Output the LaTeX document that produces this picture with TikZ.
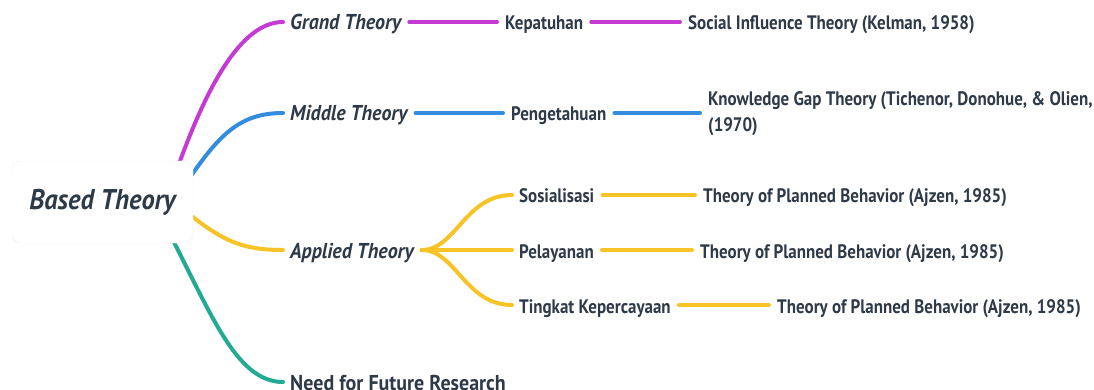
\documentclass[tikz,border=0pt]{standalone}
\usepackage{fontspec}
\setmainfont{PT Sans}[FakeStretch=0.87]
\newfontfamily\widefont{PT Sans}[FakeStretch=0.93]
\usetikzlibrary{positioning}

\definecolor{ink}{HTML}{2E3A48}
\definecolor{grandc}{HTML}{C63AD4}
\definecolor{middlec}{HTML}{348CDE}
\definecolor{appliedc}{HTML}{F7C326}
\definecolor{futurec}{HTML}{22AA93}

\tikzset{
  topic/.style={anchor=west,inner sep=0pt,text=ink,font=\fontsize{19.5}{23}\selectfont\bfseries,text height=16pt,text depth=0pt},
  branch/.style={topic,font=\widefont\fontsize{21.5}{25}\selectfont\bfseries\itshape},
  link/.style={line width=4pt,line cap=round,shorten <=8pt,shorten >=8pt}
}

\begin{document}
\begin{tikzpicture}[x=1pt,y=-1pt]
                \useasboundingbox (0,0) rectangle (1094,390);

                % main branches
                \node[branch] (grand) at (290,22) {Grand Theory};
                \node[branch] (middle) at (290,113) {Middle Theory};
                \node[branch] (applied) at (290,250) {Applied Theory};
                \node[topic,font=\widefont\fontsize{21.5}{25}\selectfont\bfseries] (future) at (290,382) {Need for Future Research};

                % sub topics
                \node[topic] (kepatuhan) at (505,22) {Kepatuhan};
                \node[topic] (social) at (688,22) {Social Influence Theory (Kelman, 1958)};
                \node[topic] (pengetahuan) at (511,113) {Pengetahuan};
                \node[topic,text height=,text depth=,align=left,font=\fontsize{19.5}{26}\selectfont\bfseries] (gap) at (708,114) {Knowledge Gap Theory (Tichenor, Donohue, \& Olien,\\(1970)};
                \node[topic] (sosialisasi) at (519,195) {Sosialisasi};
                \node[topic] (pelayanan) at (519,250) {Pelayanan};
                \node[topic] (tingkat) at (519,305) {Tingkat Kepercayaan};
                \node[topic] (tpb1) at (703,195) {Theory of Planned Behavior (Ajzen, 1985)};
                \node[topic] (tpb2) at (700,250) {Theory of Planned Behavior (Ajzen, 1985)};
                \node[topic] (tpb3) at (777,305) {Theory of Planned Behavior (Ajzen, 1985)};

                % curves out of the root
                \draw[link,grandc,shorten <=0pt,shorten >=7pt] (175,175) .. controls +(30,-85) and +(-50,0) .. (grand.west);
                \draw[link,middlec,shorten <=0pt,shorten >=7pt] (178,195) .. controls +(37,-55) and +(-55,0) .. (middle.west);
                \draw[link,appliedc,shorten <=0pt,shorten >=7pt] (178,205) .. controls +(42,35) and +(-50,0) .. (applied.west);
                \draw[link,futurec,shorten <=0pt,shorten >=7pt] (165,225) .. controls +(45,85) and +(-55,0) .. (future.west);

                \node[draw=black!6,fill=white,rounded corners=8pt,minimum width=181pt,minimum height=82pt,text=ink,
                      font=\widefont\fontsize{28.5}{31}\selectfont\bfseries\itshape] (root) at (102.5,202) {Based Theory};

                \foreach \from/\to in {grand/kepatuhan, kepatuhan/social}
                    {
                    \draw[link,grandc] (\from.east) -- (\to.west);
                    }

                \draw[link,middlec] (middle.east) -- (pengetahuan.west);
                \draw[link,middlec] (pengetahuan.east) -- (pengetahuan.east -| gap.west);

                \foreach \from/\to in {sosialisasi/tpb1, pelayanan/tpb2, tingkat/tpb3}
                    {
                    \draw[link,appliedc] (\from.east) -- (\to.west);
                    }

                % fork of applied theory
                \foreach \to in {sosialisasi, pelayanan, tingkat}
                    {
                    \draw[link,appliedc,shorten >=7pt] (applied.east) .. controls +(42,0) and +(-54,0) .. (\to.west);
                    }

            \end{tikzpicture}
\end{document}
